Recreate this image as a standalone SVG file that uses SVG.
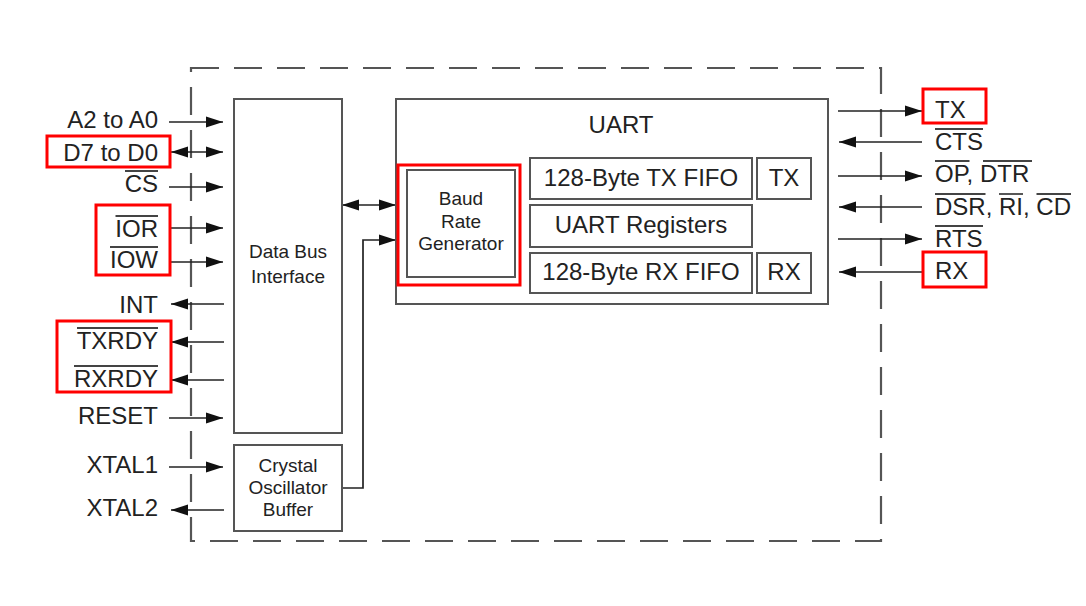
<svg xmlns="http://www.w3.org/2000/svg" width="1086" height="606" viewBox="0 0 1086 606">
<style>
text{font-family:"Liberation Sans",Arial,sans-serif;fill:#222}
.lbl{font-size:24px}
.sm{font-size:19px}
.box{fill:#fff;stroke:#555;stroke-width:2}
.hl{fill:none;stroke:#f00;stroke-width:3}
.ar{fill:none;stroke:#222;stroke-width:1.7}
.ob{stroke:#444;stroke-width:1.8}
</style>
<defs>
<marker id="ah" markerUnits="userSpaceOnUse" markerWidth="17" markerHeight="12" refX="17" refY="6" orient="auto-start-reverse">
<path d="M0,0.5 L17,6 L0,11.5 z" fill="#111"/>
</marker>
</defs>
<rect width="1086" height="606" fill="#fff"/>
<rect id="chip-border" x="191" y="68" width="690" height="473" fill="none" stroke="#555" stroke-width="2.2" stroke-dasharray="28 15"/>

<g id="connectors">
<line class="ar" x1="169" y1="122" x2="223" y2="122" marker-end="url(#ah)"/>
<line class="ar" x1="171" y1="152" x2="223" y2="152" marker-start="url(#ah)" marker-end="url(#ah)"/>
<line class="ar" x1="169" y1="187" x2="223" y2="187" marker-end="url(#ah)"/>
<line class="ar" x1="169" y1="228" x2="223" y2="228" marker-end="url(#ah)"/>
<line class="ar" x1="169" y1="262" x2="223" y2="262" marker-end="url(#ah)"/>
<line class="ar" x1="224" y1="304" x2="171" y2="304" marker-end="url(#ah)"/>
<line class="ar" x1="224" y1="342" x2="171" y2="342" marker-end="url(#ah)"/>
<line class="ar" x1="224" y1="380" x2="171" y2="380" marker-end="url(#ah)"/>
<line class="ar" x1="169" y1="418" x2="223" y2="418" marker-end="url(#ah)"/>
<line class="ar" x1="169" y1="467" x2="223" y2="467" marker-end="url(#ah)"/>
<line class="ar" x1="224" y1="510" x2="171" y2="510" marker-end="url(#ah)"/>
<line class="ar" x1="342" y1="205" x2="396" y2="205" marker-start="url(#ah)" marker-end="url(#ah)"/>
<polyline class="ar" points="342,488 363,488 363,240 396,240" marker-end="url(#ah)"/>
<line class="ar" x1="838" y1="111" x2="922" y2="111" marker-end="url(#ah)"/>
<line class="ar" x1="922" y1="142" x2="839" y2="142" marker-end="url(#ah)"/>
<line class="ar" x1="838" y1="176" x2="922" y2="176" marker-end="url(#ah)"/>
<line class="ar" x1="922" y1="207" x2="839" y2="207" marker-end="url(#ah)"/>
<line class="ar" x1="838" y1="239" x2="922" y2="239" marker-end="url(#ah)"/>
<line class="ar" x1="922" y1="272" x2="839" y2="272" marker-end="url(#ah)"/>
</g>

<g id="left-labels" text-anchor="end">
<text class="lbl" x="158" y="128">A2 to A0</text>
<text class="lbl" x="158" y="161">D7 to D0</text>
<text class="lbl" x="158" y="192">CS</text>
<text class="lbl" x="158" y="237">IOR</text>
<text class="lbl" x="158" y="268">IOW</text>
<text class="lbl" x="158" y="313">INT</text>
<text class="lbl" x="158" y="349">TXRDY</text>
<text class="lbl" x="158" y="387">RXRDY</text>
<text class="lbl" x="158" y="424">RESET</text>
<text class="lbl" x="158" y="473">XTAL1</text>
<text class="lbl" x="158" y="516">XTAL2</text>
</g>

<g id="right-labels">
<text class="lbl" x="935" y="118">TX</text>
<text class="lbl" x="935" y="150">CTS</text>
<text class="lbl" x="935" y="182">OP, DTR</text>
<text class="lbl" x="935" y="215">DSR, RI, CD</text>
<text class="lbl" x="935" y="247">RTS</text>
<text class="lbl" x="935" y="279">RX</text>
</g>

<g id="overbars">
<line class="ob" x1="125" y1="171" x2="158" y2="171"/>
<line class="ob" x1="115.5" y1="216" x2="158" y2="216"/>
<line class="ob" x1="110" y1="247" x2="158" y2="247"/>
<line class="ob" x1="77" y1="328" x2="158" y2="328"/>
<line class="ob" x1="74" y1="366" x2="158" y2="366"/>
<line class="ob" x1="935" y1="129" x2="983" y2="129"/>
<line class="ob" x1="935" y1="161" x2="969.5" y2="161"/>
<line class="ob" x1="983" y1="161" x2="1032" y2="161"/>
<line class="ob" x1="935" y1="194" x2="985.5" y2="194"/>
<line class="ob" x1="999" y1="194" x2="1023" y2="194"/>
<line class="ob" x1="1036.5" y1="194" x2="1071" y2="194"/>
<line class="ob" x1="935" y1="226" x2="983" y2="226"/>
</g>

<g id="data-bus-interface">
<rect class="box" x="234" y="99" width="108" height="334"/>
<text class="sm" x="288" y="258" text-anchor="middle">Data Bus</text>
<text class="sm" x="288" y="283" text-anchor="middle">Interface</text>
</g>

<g id="crystal-oscillator-buffer">
<rect class="box" x="234" y="445" width="108" height="86"/>
<text class="sm" x="288" y="472" text-anchor="middle">Crystal</text>
<text class="sm" x="288" y="494" text-anchor="middle">Oscillator</text>
<text class="sm" x="288" y="516" text-anchor="middle">Buffer</text>
</g>

<g id="uart">
<rect class="box" x="396" y="99" width="432" height="205"/>
<text class="lbl" x="621" y="133" text-anchor="middle">UART</text>
</g>

<g id="baud-rate-generator">
<rect class="box" x="407" y="170" width="108" height="107"/>
<text class="sm" x="461" y="205" text-anchor="middle">Baud</text>
<text class="sm" x="461" y="228" text-anchor="middle">Rate</text>
<text class="sm" x="461" y="250" text-anchor="middle">Generator</text>
</g>

<g id="tx-fifo">
<rect class="box" x="530" y="158" width="222" height="41"/>
<text class="lbl" x="641" y="186" text-anchor="middle">128-Byte TX FIFO</text>
</g>
<g id="uart-registers">
<rect class="box" x="530" y="205" width="222" height="42"/>
<text class="lbl" x="641" y="233" text-anchor="middle">UART Registers</text>
</g>
<g id="rx-fifo">
<rect class="box" x="530" y="253" width="222" height="40"/>
<text class="lbl" x="641" y="280" text-anchor="middle">128-Byte RX FIFO</text>
</g>
<g id="tx">
<rect class="box" x="757" y="158" width="54" height="41"/>
<text class="lbl" x="784" y="186" text-anchor="middle">TX</text>
</g>
<g id="rx">
<rect class="box" x="757" y="253" width="54" height="40"/>
<text class="lbl" x="784" y="280" text-anchor="middle">RX</text>
</g>

<g id="highlights">
<rect class="hl" x="47" y="136" width="123" height="31"/>
<rect class="hl" x="96" y="205" width="74" height="70"/>
<rect class="hl" x="57" y="321" width="114" height="71"/>
<rect class="hl" x="398" y="165" width="122" height="120"/>
<rect class="hl" x="923" y="89" width="63" height="34"/>
<rect class="hl" x="923" y="252" width="63" height="35"/>
</g>
</svg>
